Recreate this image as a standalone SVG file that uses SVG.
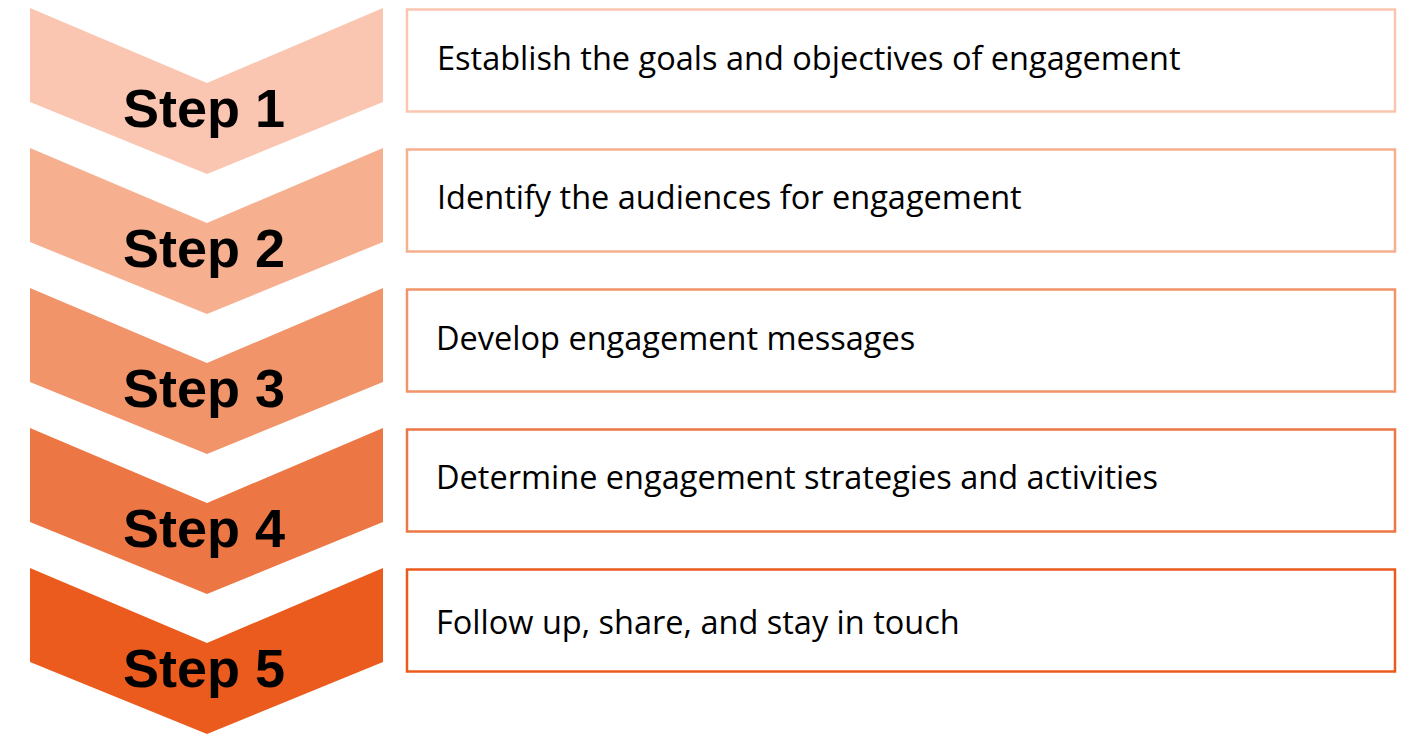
<svg xmlns="http://www.w3.org/2000/svg" width="1427" height="737" viewBox="0 0 1427 737">
<style>
.step{font-family:"Liberation Sans",Arial,sans-serif;font-weight:bold;font-size:54px;fill:#000;text-anchor:middle}
.lbl{font-family:"Open Sans","Noto Sans",sans-serif;font-size:32.5px;fill:#000}
.box{fill:#fff;stroke-width:2.5}
</style>
<rect width="1427" height="737" fill="#fff"/>
<g id="step1">
<polygon points="30,8 207,83 383,8 383,102 207,174 30,102" fill="#FBC6B1"/>
<text class="step" x="204" y="127">Step 1</text>
<rect class="box" x="407" y="9.5" width="988" height="102" stroke="#FBC6B1"/>
<text class="lbl" x="437" y="70">Establish the goals and objectives of engagement</text>
</g>
<g id="step2">
<polygon points="30,148 207,223 383,148 383,242 207,314 30,242" fill="#F6AF8F"/>
<text class="step" x="204" y="267">Step 2</text>
<rect class="box" x="407" y="149.5" width="988" height="102" stroke="#F6AF8F"/>
<text class="lbl" x="437" y="209">Identify the audiences for engagement</text>
</g>
<g id="step3">
<polygon points="30,288 207,363 383,288 383,382 207,454 30,382" fill="#F1946A"/>
<text class="step" x="204" y="407">Step 3</text>
<rect class="box" x="407" y="289.5" width="988" height="102" stroke="#F1946A"/>
<text class="lbl" x="436" y="350">Develop engagement messages</text>
</g>
<g id="step4">
<polygon points="30,428 207,503 383,428 383,522 207,594 30,522" fill="#ED7744"/>
<text class="step" x="204" y="547">Step 4</text>
<rect class="box" x="407" y="429.5" width="988" height="102" stroke="#ED7744"/>
<text class="lbl" x="436" y="489">Determine engagement strategies and activities</text>
</g>
<g id="step5">
<polygon points="30,568 207,643 383,568 383,662 207,734 30,662" fill="#EA5B1D"/>
<text class="step" x="204" y="687">Step 5</text>
<rect class="box" x="407" y="569.5" width="988" height="102" stroke="#EA5B1D"/>
<text class="lbl" x="436" y="634">Follow up, share, and stay in touch</text>
</g>
<g id="connectors"></g>
</svg>
